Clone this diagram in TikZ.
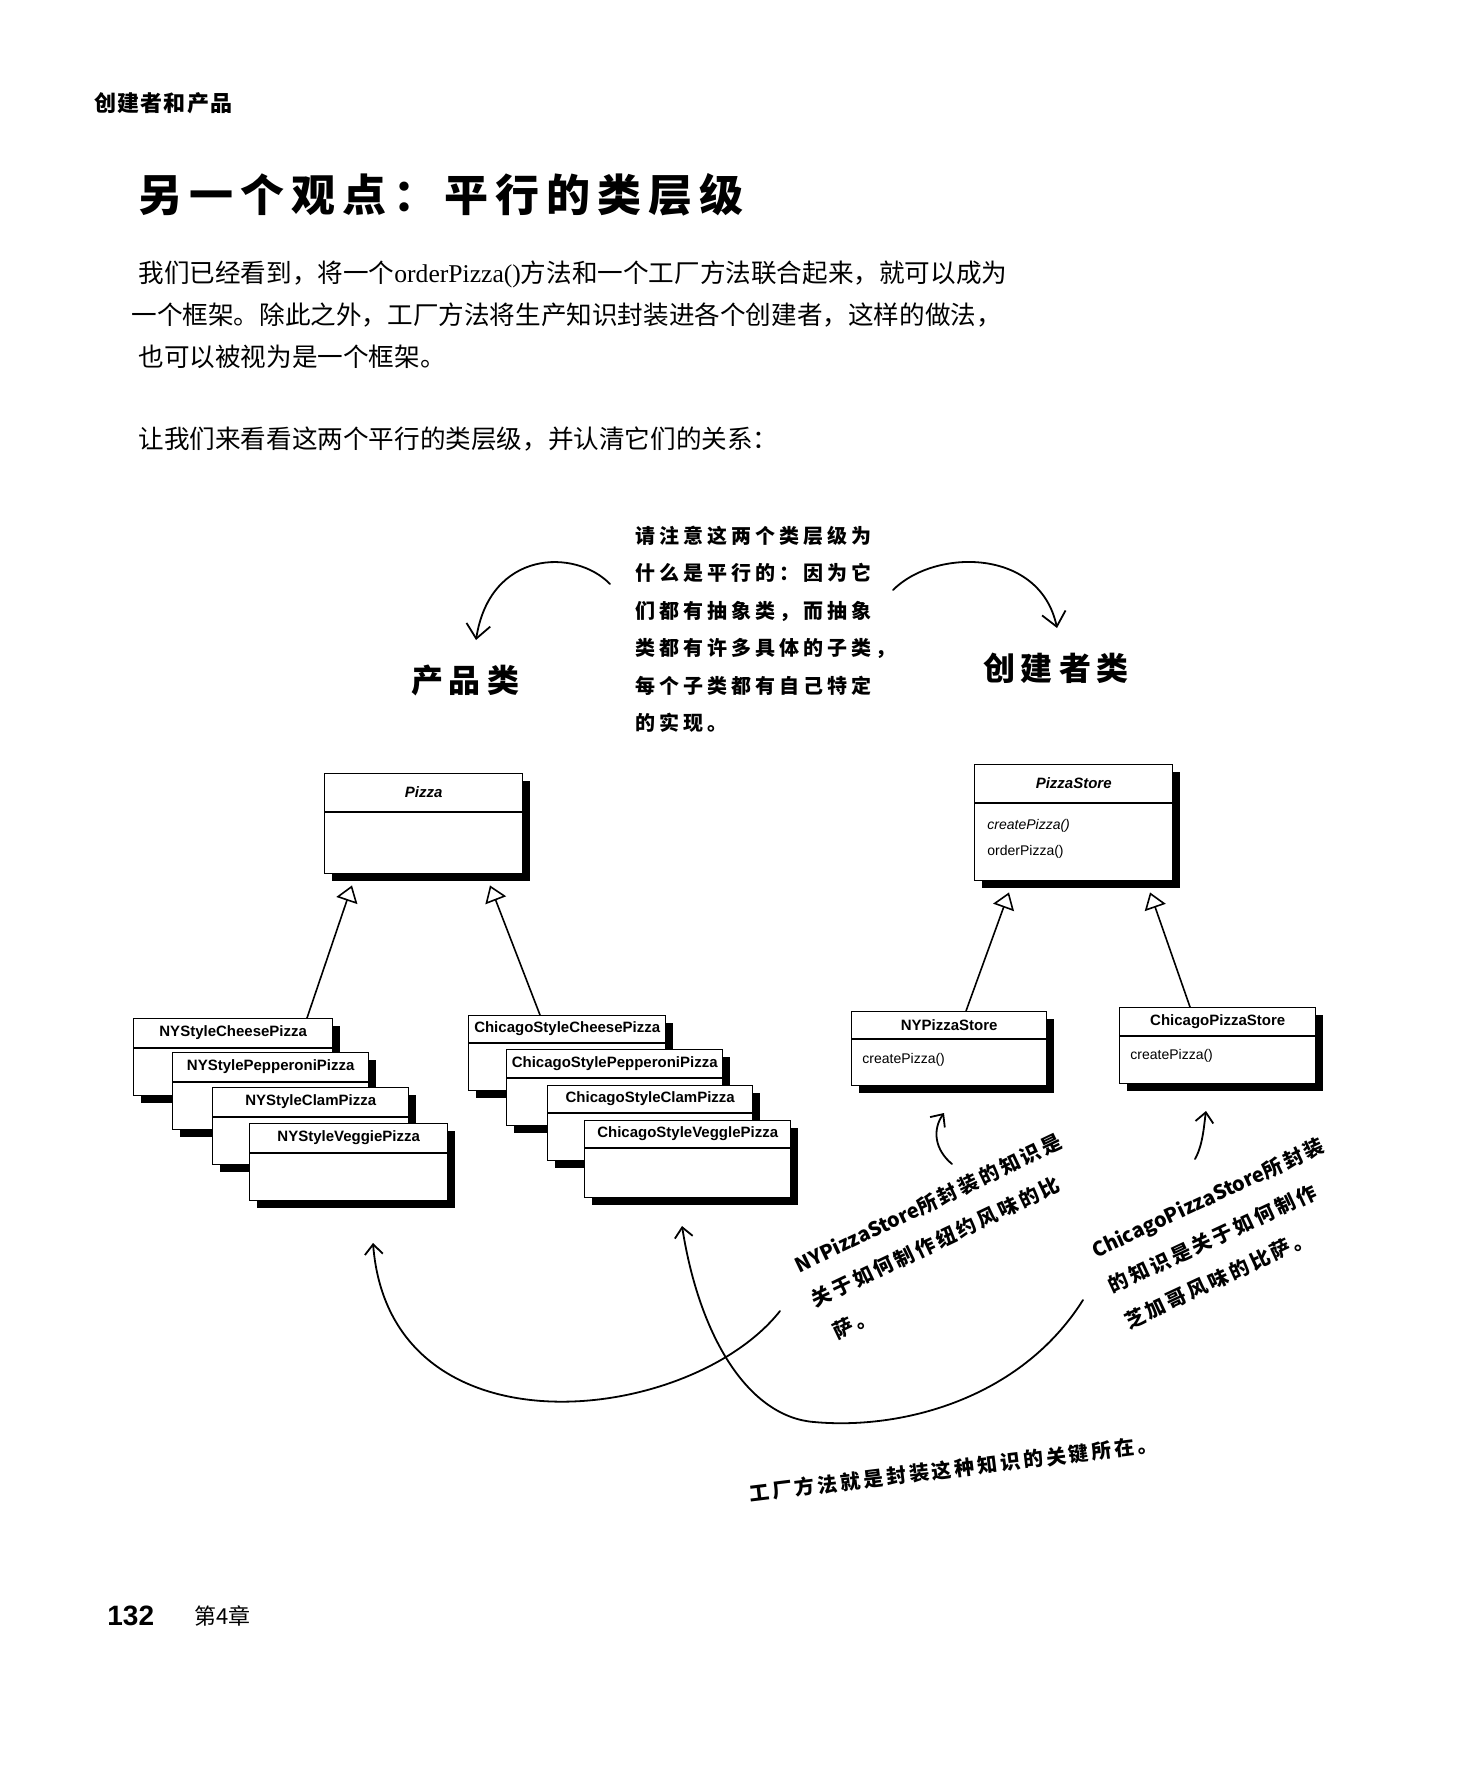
\documentclass[tikz,border=0pt]{standalone}
\usepackage{fontspec}
\setmainfont{Liberation Sans}
\newfontfamily\cjk{Noto Sans CJK SC}
\newfontfamily\latinserif{Liberation Serif}
\usetikzlibrary{arrows.meta,calc,shadows}

% letter-spaced text: \spacedtext{gap}{characters}
\newdimen\chargap
\def\spacedtext#1#2{\chargap=#1\relax\spacedstep#2\relax}
\def\spacedstep#1{\ifx\relax#1\else#1\kern\chargap\expandafter\spacedstep\fi}

% UML class box: name, x, y, width, height, divider offset, title
\newcommand\umlclass[7]{%
  \node[classbox,minimum width=#4*0.5pt,minimum height=#5*0.5pt] (#1) at (#2,#3) {};
  \draw[line width=0.7pt] ($(#1.north west)+(0,#6)$) -- ($(#1.north east)+(0,#6)$);
  \node[classname] (#1-name) at ($(#1.north)+(0,#6/2)$) {#7};
}

\begin{document}
\begin{tikzpicture}[x=0.5pt,y=-0.5pt,
  classbox/.style={draw,line width=0.7pt,fill=white,inner sep=0pt,anchor=north west,
    drop shadow={shadow xshift=3.5pt,shadow yshift=-3.5pt,fill=black,opacity=1}},
  classname/.style={font=\bfseries\fontsize{7.5pt}{9pt}\selectfont,inner sep=0pt},
  method/.style={font=\fontsize{7pt}{8.5pt}\selectfont,anchor=west,inner sep=0pt},
  inherit/.style={line width=0.8pt,-{Triangle[open,fill=white,length=8pt,width=11pt]}},
  hand/.style={line width=0.9pt,line cap=round,line join=round,
    -{Straight Barb[length=5pt,width=9pt]}},
  bighand/.style={line width=0.9pt,line cap=round,line join=round,
    -{Straight Barb[length=7pt,width=12pt]}},
  para/.style={font=\cjk\fontsize{12.8pt}{15pt}\selectfont,anchor=west,inner sep=0pt},
  scribble/.style={font=\cjk\bfseries\fontsize{10pt}{12pt}\selectfont,anchor=west,inner sep=0pt},
  heading/.style={font=\cjk\bfseries\fontsize{16pt}{18pt}\selectfont,inner sep=0pt},
]
\fill[white] (0,0) rectangle (1474,1772);
\useasboundingbox (0,0) rectangle (1474,1772);

% running head and title
\node[font=\cjk\bfseries\fontsize{11pt}{13pt}\selectfont,anchor=west,inner sep=0pt]
  (runhead) at (94,103) {\spacedtext{0.6pt}{创建者和产品}};
\node[font=\cjk\bfseries\fontsize{22pt}{26pt}\selectfont,anchor=west,inner sep=0pt]
  (title) at (138,195) {\spacedtext{3.5pt}{另一个观点：平行的类层级}};

% body text
\node[para] (p1) at (138,274) {我们已经看到，将一个{\latinserif orderPizza()}方法和一个工厂方法联合起来，就可以成为};
\node[para] (p2) at (131,315) {一个框架。除此之外，工厂方法将生产知识封装进各个创建者，这样的做法，};
\node[para] (p3) at (138,357) {也可以被视为是一个框架。};
\node[para] (p4) at (138,439) {让我们来看看这两个平行的类层级，并认清它们的关系：};

% central remark
\node[scribble] (n1) at (635,536) {\spacedtext{2pt}{请注意这两个类层级为}};
\node[scribble] (n2) at (635,573) {\spacedtext{2pt}{什么是平行的：因为它}};
\node[scribble] (n3) at (635,611) {\spacedtext{2pt}{们都有抽象类，而抽象}};
\node[scribble] (n4) at (635,648) {\spacedtext{2pt}{类都有许多具体的子类，}};
\node[scribble] (n5) at (635,686) {\spacedtext{2pt}{每个子类都有自己特定}};
\node[scribble] (n6) at (635,723) {\spacedtext{2pt}{的实现。}};

% hierarchy headings
\node[heading] (prodhead) at (468,680) {\spacedtext{3pt}{产品类}};
\node[heading] (credhead) at (1059,668) {\spacedtext{3pt}{创建者类}};

\coordinate (la-s) at (610,584);
\coordinate (la-e) at (476,640);
\draw[bighand] (la-s) .. controls (575,548) and (490,550) .. (la-e);
\coordinate (ra-s) at (893,590);
\coordinate (ra-e) at (1057,628);
\draw[bighand] (ra-s) .. controls (935,548) and (1040,548) .. (ra-e);

% product hierarchy
\umlclass{pizza}{324}{773}{198}{100}{39}{\itshape Pizza}
\umlclass{nycheese}{133}{1018}{199}{77}{30}{NYStyleCheesePizza}
\umlclass{nypep}{172}{1052}{196}{77}{30}{NYStylePepperoniPizza}
\umlclass{nyclam}{212}{1087}{196}{77}{30}{NYStyleClamPizza}
\umlclass{nyveg}{249}{1123}{198}{77}{30}{NYStyleVeggiePizza}
\umlclass{chcheese}{468}{1015}{197}{75}{28}{ChicagoStyleCheesePizza}
\umlclass{chpep}{506}{1049}{216}{76}{29}{ChicagoStylePepperoniPizza}
\umlclass{chclam}{547}{1085}{205}{75}{28}{ChicagoStyleClamPizza}
\umlclass{chveg}{584}{1120}{206}{77}{28}{ChicagoStyleVegglePizza}

\draw[inherit] ($(nycheese.north west)+(174,0)$) -- ($(pizza.south west)+(28,11)$);
\draw[inherit] ($(chcheese.north west)+(72,0)$) -- ($(pizza.south west)+(166,11)$);

% creator hierarchy
\umlclass{store}{974}{764}{198}{116}{39}{\itshape PizzaStore}
\node[method,font=\itshape\fontsize{7pt}{8.5pt}\selectfont] (store-m1) at (987,826) {createPizza()};
\node[method] (store-m2) at (987,852) {orderPizza()};
\umlclass{nystore}{851}{1011}{195}{74}{28}{NYPizzaStore}
\node[method] (nystore-m1) at (862,1060) {createPizza()};
\umlclass{chstore}{1119}{1007}{196}{76}{29}{ChicagoPizzaStore}
\node[method] (chstore-m1) at (1130,1056) {createPizza()};

\draw[inherit] ($(nystore.north west)+(115,0)$) -- ($(store.south west)+(35,11)$);
\draw[inherit] ($(chstore.north west)+(71,0)$) -- ($(store.south west)+(176,11)$);

% remarks on the concrete creators, set as slanted three-line notes
\node[scribble,rotate=25.5,align=left,font=\cjk\bfseries\fontsize{10pt}{19pt}\selectfont]
  (nynote) at (812,1301) {NYPizzaStore\spacedtext{1.5pt}{所封装的知识是}\\
    \spacedtext{1.5pt}{关于如何制作纽约风味的比}\\
    \hspace*{3pt}\spacedtext{1.5pt}{萨。}};
\node[scribble,rotate=25,align=left,font=\cjk\bfseries\fontsize{10pt}{19.5pt}\selectfont]
  (chnote) at (1109,1287) {ChicagoPizzaStore\spacedtext{1.5pt}{所封装}\\
    \spacedtext{1.5pt}{的知识是关于如何制作}\\
    \spacedtext{1.5pt}{芝加哥风味的比萨。}};

\coordinate (nya-s) at (952,1164);
\coordinate (nya-e) at (944,1113);
\draw[hand] (nya-s) .. controls (935,1150) and (932,1130) .. (nya-e);
\coordinate (cha-s) at (1195,1159);
\coordinate (cha-e) at (1206,1111);
\draw[hand] (cha-s) .. controls (1203,1145) and (1204,1125) .. (cha-e);

% the two long sweeping arrows
\coordinate (ca-s) at (780,1311);
\coordinate (ca-e) at (373,1243);
\draw[hand] (ca-s) .. controls (690,1425) and (390,1460) .. (ca-e);
\coordinate (cb-s) at (1083,1300);
\coordinate (cb-m) at (814,1422);
\coordinate (cb-e) at (682,1226);
\draw[hand] (cb-s) .. controls (1020,1400) and (900,1430) .. (cb-m)
  .. controls (750,1417) and (700,1340) .. (cb-e);

\node[scribble,rotate=7] (key) at (749,1494) {\spacedtext{1.5pt}{工厂方法就是封装这种知识的关键所在。}};

% folio
\node[font=\bfseries\fontsize{14pt}{16pt}\selectfont,anchor=west,inner sep=0pt] (folio) at (107,1616) {132};
\node[font=\cjk\fontsize{11pt}{13pt}\selectfont,anchor=west,inner sep=0pt] (chap) at (194,1616) {第4章};
\end{tikzpicture}
\end{document}
